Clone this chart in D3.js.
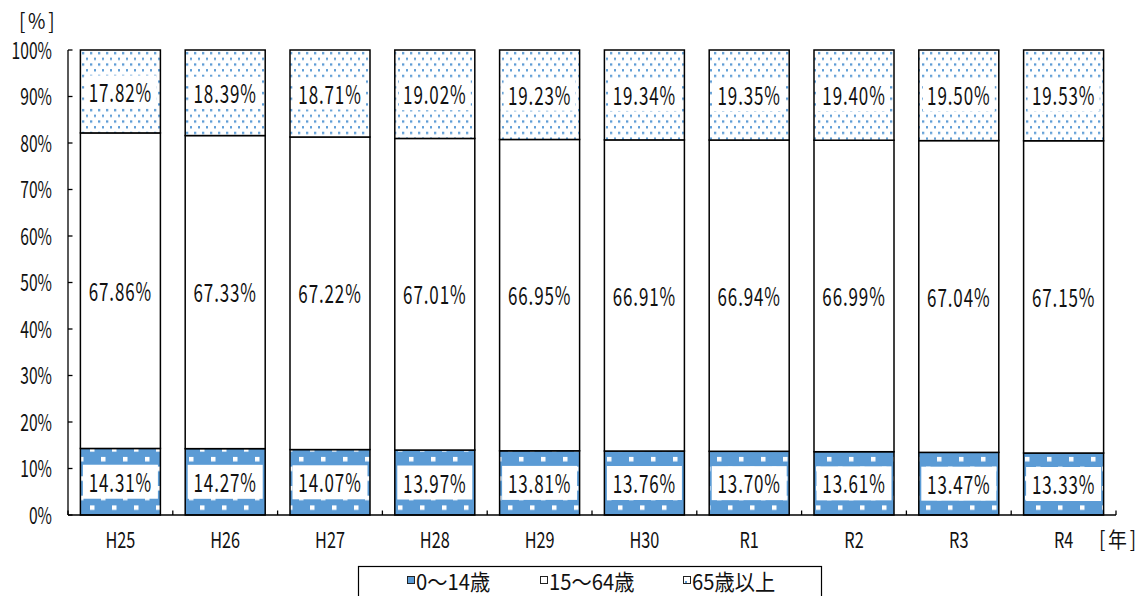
<!DOCTYPE html>
<html><head><meta charset="utf-8">
<script src="https://cdn.jsdelivr.net/npm/d3@7"></script>
<style>body{margin:0;background:#fff}svg{display:block}</style>
</head><body>
<svg id="c" width="1145" height="596"></svg>
<script>
const categories = ["H25","H26","H27","H28","H29","H30","R1","R2","R3","R4"];
const age0to14 = [14.31,14.27,14.07,13.97,13.81,13.76,13.70,13.61,13.47,13.33];
const age15to64 = [67.86,67.33,67.22,67.01,66.95,66.91,66.94,66.99,67.04,67.15];
const age65plus = [17.82,18.39,18.71,19.02,19.23,19.34,19.35,19.40,19.50,19.53];
const yTicks = [0,10,20,30,40,50,60,70,80,90,100];
const seriesNames = ["0～14歳","15～64歳","65歳以上"];

const FONT = "'Noto Sans CJK JP','Noto Sans',sans-serif";
const BLUE = "#5B9BD5";
const svg = d3.select("#c");

const defs = svg.append("defs");
const p1 = defs.append("pattern").attr("id","pYoung").attr("patternUnits","userSpaceOnUse")
  .attr("width",22).attr("height",19.4).attr("x",2).attr("y",1);
p1.append("rect").attr("width",22).attr("height",19.4).attr("fill",BLUE);
p1.append("rect").attr("x",0).attr("y",0).attr("width",4.5).attr("height",4.5).attr("fill","#fff");
p1.append("rect").attr("x",11).attr("y",9.7).attr("width",4.5).attr("height",4.5).attr("fill","#fff");
const p3 = defs.append("pattern").attr("id","pOld").attr("patternUnits","userSpaceOnUse")
  .attr("width",8).attr("height",11.4).attr("x",0).attr("y",50);
p3.append("rect").attr("width",8).attr("height",11.4).attr("fill","#fff");
p3.append("rect").attr("x",2).attr("y",2).attr("width",2.3).attr("height",2.3).attr("fill",BLUE);
p3.append("rect").attr("x",6).attr("y",7.7).attr("width",2.3).attr("height",2.3).attr("fill",BLUE);

const x = d3.scaleBand().domain(categories).range([68,1116]).paddingInner(0.2366).paddingOuter(0.1183);
const y = d3.scaleLinear().domain([0,100]).range([515,50]);

function txt(g, tx, ty, s, size, sx, anchor){
  return g.append("text").attr("transform",`translate(${tx},${ty}) scale(${sx},1)`)
    .attr("font-family",FONT).attr("font-size",size).attr("fill","#111")
    .attr("text-anchor",anchor||"middle").attr("dominant-baseline","central").text(s);
}

const data = categories.map((c,i)=>({c, a:age0to14[i], b:age15to64[i], d:age65plus[i]}));
const fmt = v => v.toFixed(2)+"%";

const bars = svg.append("g");
data.forEach(dd=>{
  const x0 = x(dd.c), w = x.bandwidth();
  const y1 = y(dd.a), y2 = y(dd.a+dd.b), y3 = y(100);
  bars.append("rect").attr("x",x0).attr("y",y1).attr("width",w).attr("height",y(0)-y1)
    .attr("fill","url(#pYoung)");
  bars.append("rect").attr("x",x0).attr("y",y1).attr("width",w).attr("height",y(0)-y1)
    .attr("fill","none").attr("stroke","#000").attr("stroke-width",1.5);
  bars.append("rect").attr("x",x0).attr("y",y2).attr("width",w).attr("height",y1-y2)
    .attr("fill","#fff").attr("stroke","#000").attr("stroke-width",1.5);
  bars.append("rect").attr("x",x0).attr("y",y3).attr("width",w).attr("height",y2-y3)
    .attr("fill","url(#pOld)").attr("stroke","#000").attr("stroke-width",1.5);
  const cx = x0 + w/2;
  const cy1 = (y1+y(0))/2, cy2=(y1+y2)/2, cy3=(y2+y3)/2;
  bars.append("rect").attr("x",x0+2.5).attr("y",cy1-17).attr("width",w-5).attr("height",34).attr("fill","#fff");
  bars.append("rect").attr("x",x0+4).attr("y",cy3-16).attr("width",w-8).attr("height",32).attr("fill","#fff");
  [[cy1,dd.a],[cy2,dd.b],[cy3,dd.d]].forEach(([cy,v])=>{
    txt(bars,cx,cy-1,fmt(v),25,0.68).attr("letter-spacing",1.3);
  });
});

// axes
const ax = svg.append("g");
ax.append("line").attr("x1",68).attr("x2",68).attr("y1",y(100)).attr("y2",y(0)).attr("stroke","#000").attr("stroke-width",1.3);
yTicks.forEach(t=>{
  ax.append("line").attr("x1",68).attr("x2",72.5).attr("y1",y(t)).attr("y2",y(t)).attr("stroke","#000").attr("stroke-width",1.3);
  txt(ax,52,y(t)-1,t+"%",23,0.68,"end");
});
ax.append("line").attr("x1",68).attr("x2",1116).attr("y1",y(0)).attr("y2",y(0)).attr("stroke","#000").attr("stroke-width",1.3);
const step = x.step();
for(let i=0;i<=categories.length;i++){
  const tx = 68 + i*step;
  ax.append("line").attr("x1",tx).attr("x2",tx).attr("y1",y(0)).attr("y2",y(0)-4.5).attr("stroke","#000").attr("stroke-width",1.3);
}
categories.forEach(c=>{ txt(ax,x(c)+x.bandwidth()/2,539,c,22,0.74); });
txt(ax,1099,538,"[年]",21,0.9,"start").attr("letter-spacing",3);
txt(ax,19,20,"[%]",21,0.9,"start").attr("letter-spacing",3);

// legend
const lg = svg.append("g");
lg.append("rect").attr("x",358.5).attr("y",566.5).attr("width",463).attr("height",40).attr("fill","#fff").attr("stroke","#000").attr("stroke-width",1.2);
const legX = [407,540,683];
const fills = [BLUE,"#fff","#fff"];
seriesNames.forEach((n,i)=>{
  lg.append("rect").attr("x",legX[i]+0.5).attr("y",576.5).attr("width",7).attr("height",7)
    .attr("fill",fills[i]).attr("stroke","#222").attr("stroke-width",1);
  if(i===2) lg.append("rect").attr("x",legX[i]+2).attr("y",581).attr("width",2).attr("height",2).attr("fill",BLUE);
  txt(lg,legX[i]+9,580,n,22,0.92,"start");
});
</script>
</body></html>
